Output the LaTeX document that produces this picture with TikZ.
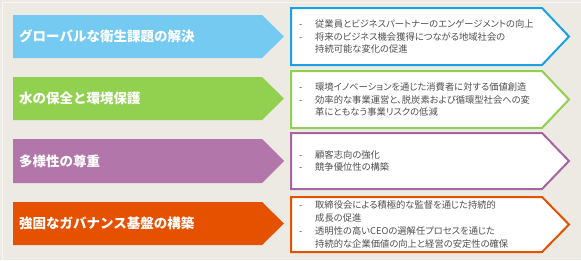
\documentclass[tikz,border=0pt]{standalone}
\usepackage{fontspec}
\newfontfamily\jpfont{Noto Sans CJK JP}
\newfontfamily\jpbody[RawFeature=+palt]{Noto Sans CJK JP}
\usetikzlibrary{positioning}

\definecolor{bgbeige}{HTML}{ECEAE2}
\definecolor{bgline}{HTML}{F7F6F2}
\definecolor{cblue}{HTML}{75CAF2}
\definecolor{cblueline}{HTML}{1BA1E2}
\definecolor{cgreen}{HTML}{92D050}
\definecolor{cpurple}{HTML}{B276AA}
\definecolor{cpurpleline}{HTML}{A665A0}
\definecolor{corange}{HTML}{E65100}
\definecolor{ctext}{HTML}{505050}

\newcommand{\itm}{\makebox[16pt][l]{-}}
\newcommand{\cont}{\hspace*{16pt}}

\tikzset{
  tag/.style={anchor=west, inner sep=0pt, text=white,
    font=\jpfont\bfseries\fontsize{13.5}{16}\selectfont},
  detail/.style={anchor=west, inner sep=0pt, align=left, text=ctext,
    font=\jpbody\fontsize{9.3}{12.7}\selectfont},
  box/.style={fill=white, draw=#1, line width=2pt, line join=miter}
}

\begin{document}
\begin{tikzpicture}[x=1pt,y=-1pt]
\useasboundingbox (0,0) rectangle (581,260);
\fill[bgbeige] (0,0) rectangle (581,260);
\draw[bgline, line width=1pt] (2.5,260) -- (2.5,2) -- (581,2);
% global health
\fill[cblue] (13,15) -- (262,15) -- (284,36.5) -- (262,58) -- (13,58) -- cycle;
\node[tag] (health) at (19,36.5) {グローバルな衛生課題の解決};
\path[box=cblueline] (291,8) -- (542,8) -- (569,36.5) -- (542,65) -- (291,65) -- cycle;
\node[detail] (healthtxt) at (299,36.5) {\itm 従業員とビジネスパートナーのエンゲージメントの向上\\
  \itm 将来のビジネス機会獲得につながる地域社会の\\
  \cont 持続可能な変化の促進};
% water
\fill[cgreen] (13,77) -- (262,77) -- (284,98.5) -- (262,120) -- (13,120) -- cycle;
\node[tag] (water) at (19,98.5) {水の保全と環境保護};
\path[box=cgreen] (291,71) -- (542,71) -- (569,99.5) -- (542,128) -- (291,128) -- cycle;
\node[detail] (watertxt) at (299,99.5) {\itm 環境イノベーションを通じた消費者に対する価値創造\\
  \itm 効率的な事業運営と、脱炭素および循環型社会への変\\
  \cont 革にともなう事業リスクの低減};
% diversity
\fill[cpurple] (13,139) -- (262,139) -- (284,161) -- (262,183) -- (13,183) -- cycle;
\node[tag] (diversity) at (19,161) {多様性の尊重};
\path[box=cpurpleline] (291,133) -- (542,133) -- (569,161) -- (542,189) -- (291,189) -- cycle;
\node[detail] (diversitytxt) at (299,161) {\itm 顧客志向の強化\\
  \itm 競争優位性の構築};
% governance
\fill[corange] (13,202) -- (262,202) -- (284,223.5) -- (262,245) -- (13,245) -- cycle;
\node[tag] (governance) at (19,223.5) {強固なガバナンス基盤の構築};
\path[box=corange] (291,197) -- (542,197) -- (569,224.5) -- (542,252) -- (291,252) -- cycle;
\node[detail] (governancetxt) at (299,224.5) {\itm 取締役会による積極的な監督を通じた持続的\\
  \cont 成長の促進\\
  \itm 透明性の高いCEOの選解任プロセスを通じた\\
  \cont 持続的な企業価値の向上と経営の安定性の確保};
\end{tikzpicture}
\end{document}
